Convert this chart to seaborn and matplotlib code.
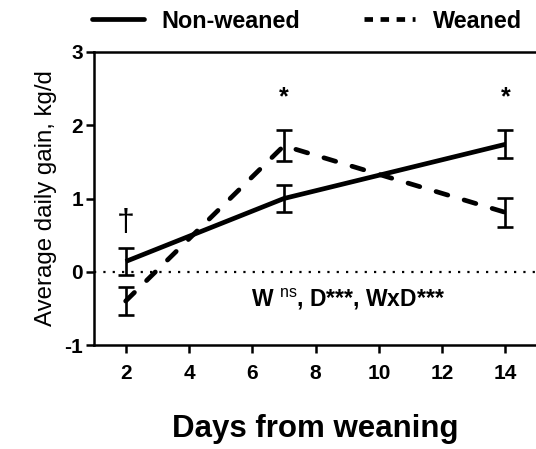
import matplotlib
matplotlib.use("Agg")
import matplotlib.pyplot as plt
import seaborn as sns
import pandas as pd

sns.set_style("ticks")
plt.rcParams["font.family"] = ["Liberation Sans", "DejaVu Sans"]
plt.rcParams["mathtext.fontset"] = "custom"
plt.rcParams["mathtext.rm"] = "Liberation Sans"
plt.rcParams["mathtext.bf"] = "Liberation Sans:bold"
plt.rcParams["axes.unicode_minus"] = False
plt.rcParams["text.color"] = "black"
plt.rcParams["axes.labelcolor"] = "black"
plt.rcParams["xtick.color"] = "black"
plt.rcParams["ytick.color"] = "black"

days = [2, 7, 14]
non_weaned = [0.14, 1.00, 1.74]
non_weaned_se = [0.19, 0.19, 0.19]
weaned = [-0.40, 1.72, 0.81]
weaned_se = [0.19, 0.21, 0.20]
groups = ["Non-weaned", "Weaned"]
x_ticks = [2, 4, 6, 8, 10, 12, 14]
y_ticks = [-1, 0, 1, 2, 3]

df = pd.DataFrame({
    "day": days * 2,
    "adg": non_weaned + weaned,
    "group": [groups[0]] * 3 + [groups[1]] * 3,
})

LW = 3.4
DASH = (2.6, 3.6)

fig = plt.figure(figsize=(5.36, 4.49), dpi=100)
ax = fig.add_axes([0.1754, 0.2316, 1.0 - 0.1754 + 0.002, 0.6526])

ax.axhline(0, color="black", lw=1.6, ls=(0, (1, 3.2)), zorder=1)

sns.lineplot(data=df, x="day", y="adg", style="group",
             dashes={groups[0]: "", groups[1]: DASH},
             color="black", lw=LW, ax=ax, legend=False, zorder=3)
for line in ax.get_lines()[1:]:
    line.set_dash_capstyle("round")
    line.set_solid_capstyle("butt")

for vals, se in [(non_weaned, non_weaned_se), (weaned, weaned_se)]:
    ax.errorbar(days, vals, yerr=se, fmt="none", ecolor="black",
                elinewidth=1.9, capsize=5.8, capthick=1.9, zorder=4)

ax.set_xlim(1, 15)
ax.set_ylim(-1, 3)
ax.set_xticks(x_ticks)
ax.set_yticks(y_ticks)
ax.tick_params(axis="both", width=1.8, length=6, direction="out",
               labelsize=15)
ax.tick_params(axis="x", pad=8)
ax.tick_params(axis="y", pad=2)
for lab in ax.get_xticklabels() + ax.get_yticklabels():
    lab.set_fontweight("bold")

for side in ["left", "bottom", "top"]:
    ax.spines[side].set_linewidth(1.8)
    ax.spines[side].set_color("black")
ax.spines["right"].set_visible(False)
ax.spines["top"].set_visible(True)

ax.set_xlabel("Days from weaning", fontsize=22.5, fontweight="bold", labelpad=22)
ax.set_ylabel("Average daily gain, kg/d", fontsize=17.3, labelpad=5)

# significance marks
ax.text(7, 2.38, "*", ha="center", va="center", fontsize=18, fontweight="bold")
ax.text(14, 2.38, "*", ha="center", va="center", fontsize=18, fontweight="bold")
ax.text(2, 0.66, "\u2020", ha="center", va="center", fontsize=23)
ax.text(5.95, -0.38, r"W $^{\mathrm{ns}}$, D***, WxD***", ha="left", va="center",
        fontsize=16.5, fontweight="bold")

# legend above the axes
handles = [
    plt.Line2D([], [], color="black", lw=LW),
    plt.Line2D([], [], color="black", lw=LW, ls=(0, (1.8, 1.6))),
]
fig.legend(handles, groups, loc="center left", bbox_to_anchor=(0.172, 0.953),
           ncol=2, frameon=False, handlelength=2.2, columnspacing=2.75,
           handletextpad=0.75, borderpad=0, borderaxespad=0,
           prop={"weight": "bold", "size": 16.8})

fig.savefig("out.png", dpi=100)
